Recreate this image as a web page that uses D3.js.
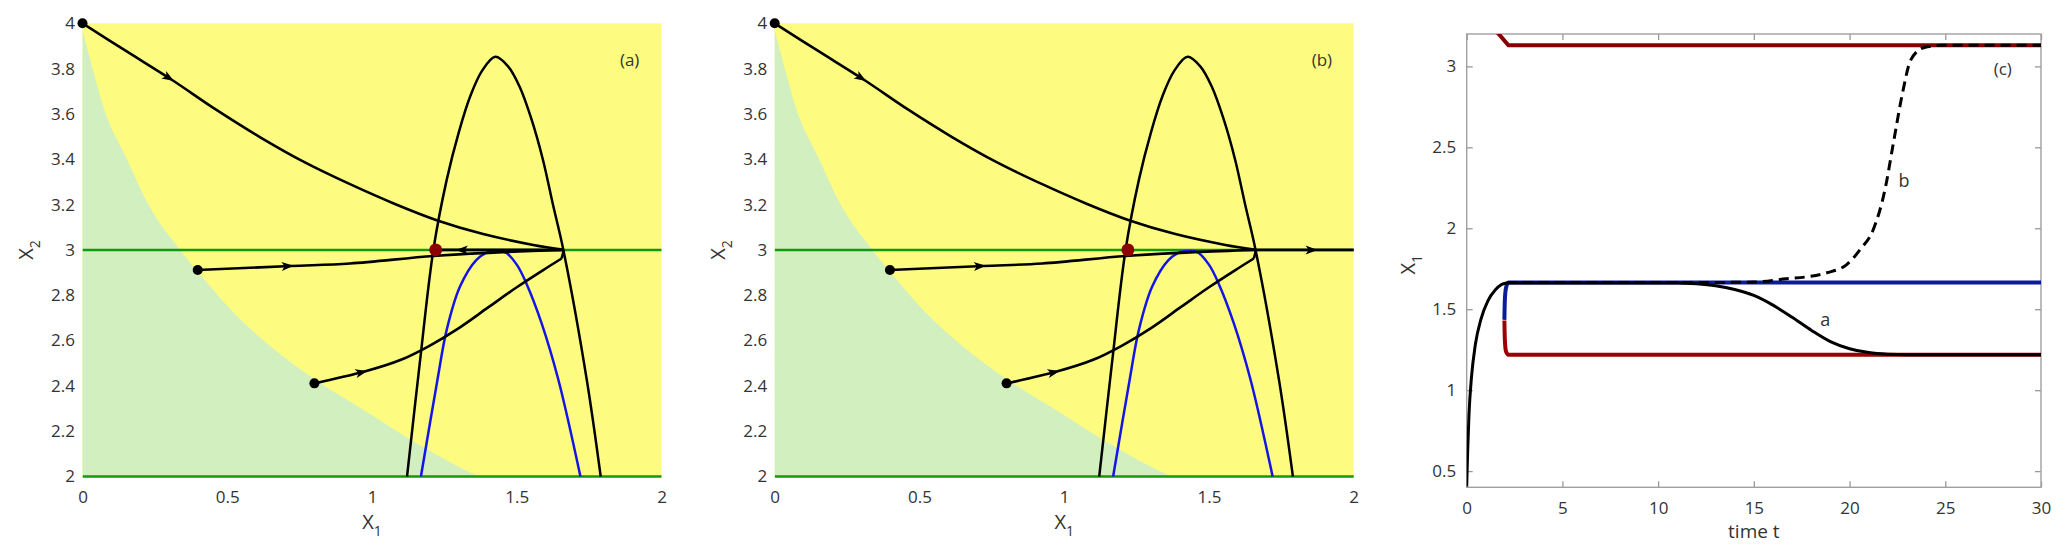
<!DOCTYPE html>
<html>
<head>
<meta charset="utf-8">
<script src="https://cdn.jsdelivr.net/npm/d3@7"></script>
<style>
  body { margin: 0; background: #fff; }
  text { font-family: "Open Sans", sans-serif; fill: #333; }
</style>
</head>
<body>
<svg id="fig" width="2067" height="558"></svg>
<script>
// ---- phase plane data (panels a, b) ----
const basinEdge = [[0,3.97],[0.037,3.79],[0.075,3.62],[0.15,3.41],[0.232,3.19],[0.337,3.0],[0.42,2.87],
  [0.524,2.72],[0.644,2.58],[0.80,2.43],[0.95,2.31],[1.05,2.23],[1.15,2.15],[1.26,2.07],[1.37,2.0]];
const nullBlack = [[1.121,2.0],[1.165,2.5],[1.212,3.0],[1.258,3.309],[1.30,3.52],[1.34,3.68],[1.38,3.79],
  [1.426,3.852],[1.47,3.81],[1.51,3.72],[1.55,3.58],[1.59,3.40],[1.625,3.20],[1.661,3.0],[1.742,2.426],[1.79,2.0]];
const nullBlue = [[1.169,2.0],[1.226,2.426],[1.258,2.647],[1.304,2.838],[1.36,2.955],[1.40,2.99],[1.43,2.995],
  [1.46,2.99],[1.50,2.935],[1.534,2.85],[1.586,2.676],[1.644,2.426],[1.72,2.0]];
const trajTop = [[0,4],[0.15,3.878],[0.307,3.752],[0.46,3.62],[0.614,3.497],[0.77,3.385],[0.924,3.29],
  [1.075,3.205],[1.226,3.13],[1.384,3.07],[1.557,3.022],[1.663,3.0]];
const trajMid = [[0.398,2.911],[0.719,2.929],[0.924,2.94],[1.212,2.973],[1.45,2.99],[1.663,3.0]];
const trajLow = [[0.801,2.411],[0.974,2.463],[1.10,2.515],[1.2,2.578],[1.3,2.655],[1.4,2.745],[1.5,2.835],
  [1.6,2.918],[1.655,2.962]];
const trajLowEnd = [[1.655,2.962],[1.663,3.0]];
const toEquilibrium = [[1.22,3.0],[1.663,3.0]];   // panel a
const toInfinity = [[1.663,3.0],[2.0,3.0]];       // panel b
const startPts = [[0,4],[0.398,2.911],[0.801,2.411]];
const eqPt = [1.22,3.0];
const greenLevels = [2,3];
const x1Ticks = [0,0.5,1,1.5,2];
const x2Ticks = [2,2.2,2.4,2.6,2.8,3,3.2,3.4,3.6,3.8,4];

// ---- time series data (panel c) ----
const cRedTop = [[1.6,3.21],[2.18,3.13],[30,3.13]];
const cBlue = [[1.97,1.434],[1.99,1.55],[2.05,1.63],[2.18,1.665],[30,1.665]];
const cRedLow = [[1.97,1.43],[1.99,1.32],[2.05,1.24],[2.18,1.219],[30,1.219]];
const cSolidA = [[0,0.405],[0.05,0.62],[0.12,0.85],[0.25,1.08],[0.45,1.28],[0.75,1.44],[1.1,1.55],[1.5,1.62],
  [2.1,1.662],[11,1.662],[12,1.657],[13,1.645],[14,1.622],[15,1.585],[16,1.525],[17,1.45],[18,1.37],
  [19,1.30],[20,1.256],[21,1.232],[22,1.222],[23,1.219],[30,1.219]];
const cDashB = [[2.1,1.665],[12,1.665],[15,1.668],[16.7,1.688],[17.76,1.70],[18.81,1.725],[19.85,1.776],
  [20.55,1.868],[21.24,1.992],[21.85,2.239],[22.29,2.527],[22.74,2.82],[23.2,3.04],[23.9,3.117],
  [24.8,3.13],[30,3.13]];
const tTicks = [0,5,10,15,20,25,30];
const cYTicks = [0.5,1,1.5,2,2.5,3];

const svg = d3.select('#fig');

function arrowAt(g, xs, ys, pts, xv, dir) {
  let i = 0;
  while (i < pts.length - 2 && pts[i + 1][0] < xv) i++;
  const p0 = pts[i], p1 = pts[i + 1];
  const f = (xv - p0[0]) / (p1[0] - p0[0]);
  const yv = p0[1] + f * (p1[1] - p0[1]);
  let ang = Math.atan2(ys(p1[1]) - ys(p0[1]), xs(p1[0]) - xs(p0[0])) * 180 / Math.PI;
  if (dir < 0) ang += 180;
  g.append('path')
    .attr('d', 'M3,0L-9,-4.5L-6,0L-9,4.5Z')
    .attr('fill', '#000')
    .attr('transform', `translate(${xs(xv)},${ys(yv)}) rotate(${ang})`);
}

function phasePanel(left, label, rightBranch) {
  const x = d3.scaleLinear().domain([0, 2]).range([left, left + 579]);
  const y = d3.scaleLinear().domain([2, 4]).range([476.5, 23.3]);
  const g = svg.append('g');
  const clipId = 'clip' + label;
  g.append('clipPath').attr('id', clipId).append('rect')
    .attr('x', x(0)).attr('y', y(4) - 6).attr('width', x(2) - x(0) + 4).attr('height', y(2) - y(4) + 10);

  g.append('rect').attr('x', x(0)).attr('y', y(4)).attr('width', x(2) - x(0)).attr('height', y(2) - y(4))
    .attr('fill', '#fdfc80');
  g.append('path').datum(basinEdge)
    .attr('d', d3.area().x(d => x(d[0])).y0(y(2)).y1(d => y(d[1])).curve(d3.curveMonotoneX))
    .attr('fill', '#d2efc0');

  const line = d3.line().x(d => x(d[0])).y(d => y(d[1])).curve(d3.curveCatmullRom.alpha(0.5));
  const lin = d3.line().x(d => x(d[0])).y(d => y(d[1]));
  const plot = g.append('g').attr('clip-path', `url(#${clipId})`);

  plot.selectAll('.lvl').data(greenLevels).enter().append('line')
    .attr('x1', x(0)).attr('x2', x(2)).attr('y1', d => y(d)).attr('y2', d => y(d))
    .attr('stroke', '#119911').attr('stroke-width', 2.5);

  plot.append('path').datum(nullBlue).attr('d', line)
    .attr('fill', 'none').attr('stroke', '#1414e6').attr('stroke-width', 2.5);
  plot.append('path').datum(nullBlack).attr('d', line)
    .attr('fill', 'none').attr('stroke', '#000').attr('stroke-width', 2.5);

  [trajTop, trajMid, trajLow].forEach(t => {
    plot.append('path').datum(t).attr('d', line)
      .attr('fill', 'none').attr('stroke', '#000').attr('stroke-width', 2.6);
  });
  plot.append('path').datum(trajLowEnd).attr('d', lin)
    .attr('fill', 'none').attr('stroke', '#000').attr('stroke-width', 2.6);
  arrowAt(plot, x, y, trajTop, 0.307, 1);
  arrowAt(plot, x, y, trajMid, 0.719, 1);
  arrowAt(plot, x, y, trajLow, 0.974, 1);

  if (rightBranch) {
    plot.append('path').datum(toInfinity).attr('d', lin)
      .attr('fill', 'none').attr('stroke', '#000').attr('stroke-width', 2.6);
    arrowAt(plot, x, y, toInfinity, 1.865, 1);
  } else {
    plot.append('path').datum(toEquilibrium).attr('d', lin)
      .attr('fill', 'none').attr('stroke', '#000').attr('stroke-width', 2.6);
    arrowAt(plot, x, y, toEquilibrium, 1.30, -1);
  }

  g.selectAll('.start').data(startPts).enter().append('circle')
    .attr('cx', d => x(d[0])).attr('cy', d => y(d[1])).attr('r', 5).attr('fill', '#000');
  g.append('circle').attr('cx', x(eqPt[0])).attr('cy', y(eqPt[1])).attr('r', 6.5).attr('fill', '#8c0000');

  // axes
  const ax = g.append('g').attr('transform', `translate(0,${y(2)})`)
    .call(d3.axisBottom(x).tickValues(x1Ticks).tickFormat(d3.format('')).tickSize(0).tickPadding(14));
  const ay = g.append('g').attr('transform', `translate(${x(0)},0)`)
    .call(d3.axisLeft(y).tickValues(x2Ticks).tickFormat(d3.format('')).tickSize(0).tickPadding(7.5));
  [ax, ay].forEach(a => {
    a.select('.domain').remove();
    a.selectAll('text').attr('font-size', 17).attr('font-family', '"Open Sans", sans-serif').attr('fill', '#333');
  });

  const xl = g.append('text').attr('x', x(1)).attr('y', 529).attr('text-anchor', 'middle').attr('font-size', 20);
  xl.append('tspan').text('X');
  xl.append('tspan').attr('font-size', 14).attr('dy', 7).text('1');
  const yl = g.append('text').attr('transform', `translate(${left - 50},${y(3)}) rotate(-90)`)
    .attr('text-anchor', 'middle').attr('font-size', 20);
  yl.append('tspan').text('X');
  yl.append('tspan').attr('font-size', 14).attr('dy', 7).text('2');

  g.append('text').attr('x', x(1.89)).attr('y', y(3.837)).attr('dy', '0.35em')
    .attr('text-anchor', 'middle').attr('font-size', 17).text(`(${label})`);
}

phasePanel(82.5, 'a', false);
phasePanel(774.7, 'b', true);

// ---- panel c ----
(function () {
  const x = d3.scaleLinear().domain([0, 30]).range([1466.7, 2041]);
  const y = d3.scaleLinear().domain([0.4, 3.2]).range([487.3, 34]);
  const g = svg.append('g');
  g.append('clipPath').attr('id', 'clipc').append('rect')
    .attr('x', x(0)).attr('y', y(3.2)).attr('width', x(30) - x(0)).attr('height', y(0.4) - y(3.2));

  const axes = [
    g.append('g').attr('transform', `translate(0,${y(0.4)})`)
      .call(d3.axisBottom(x).tickValues(tTicks).tickSize(-6).tickPadding(15)),
    g.append('g').attr('transform', `translate(${x(0)},0)`)
      .call(d3.axisLeft(y).tickValues(cYTicks).tickFormat(d3.format('')).tickSize(-6).tickPadding(10.5)),
    g.append('g').attr('transform', `translate(0,${y(3.2)})`)
      .call(d3.axisTop(x).tickValues(tTicks).tickFormat('').tickSize(-6)),
    g.append('g').attr('transform', `translate(${x(30)},0)`)
      .call(d3.axisRight(y).tickValues(cYTicks).tickFormat('').tickSize(-6))
  ];
  axes.forEach(a => {
    a.select('.domain').remove();
    a.selectAll('line').attr('stroke', '#999').attr('stroke-width', 1.3);
    a.selectAll('text').attr('font-size', 17).attr('font-family', '"Open Sans", sans-serif').attr('fill', '#333');
  });
  g.append('rect').attr('x', x(0)).attr('y', y(3.2)).attr('width', x(30) - x(0)).attr('height', y(0.4) - y(3.2))
    .attr('fill', 'none').attr('stroke', '#a0a0a0').attr('stroke-width', 1.4);

  const line = d3.line().x(d => x(d[0])).y(d => y(d[1])).curve(d3.curveMonotoneX);
  const lin = d3.line().x(d => x(d[0])).y(d => y(d[1]));
  const plot = g.append('g').attr('clip-path', 'url(#clipc)');
  plot.append('path').datum(cRedTop).attr('d', lin)
    .attr('fill', 'none').attr('stroke', '#850000').attr('stroke-width', 4);
  plot.append('path').datum(cRedLow).attr('d', line)
    .attr('fill', 'none').attr('stroke', '#9e0000').attr('stroke-width', 4);
  plot.append('path').datum(cBlue).attr('d', line)
    .attr('fill', 'none').attr('stroke', '#0c1a9c').attr('stroke-width', 4);
  plot.append('path').datum(cSolidA).attr('d', line)
    .attr('fill', 'none').attr('stroke', '#000').attr('stroke-width', 3);
  plot.append('path').datum(cDashB).attr('d', line)
    .attr('fill', 'none').attr('stroke', '#000').attr('stroke-width', 3).attr('stroke-dasharray', '10,6');

  g.append('text').attr('x', x(18.73)).attr('y', y(1.434)).attr('dy', '0.35em')
    .attr('text-anchor', 'middle').attr('font-size', 18).text('a');
  g.append('text').attr('x', x(22.85)).attr('y', y(2.292)).attr('dy', '0.35em')
    .attr('text-anchor', 'middle').attr('font-size', 18).text('b');
  g.append('text').attr('x', x(28.0)).attr('y', y(2.985)).attr('dy', '0.35em')
    .attr('text-anchor', 'middle').attr('font-size', 17).text('(c)');

  g.append('text').attr('x', x(15)).attr('y', 538).attr('text-anchor', 'middle').attr('font-size', 19).text('time t');
  const yl = g.append('text').attr('transform', `translate(${x(0) - 52},${y(1.775)}) rotate(-90)`)
    .attr('text-anchor', 'middle').attr('font-size', 20);
  yl.append('tspan').text('X');
  yl.append('tspan').attr('font-size', 14).attr('dy', 7).text('1');
})();
</script>
</body>
</html>
